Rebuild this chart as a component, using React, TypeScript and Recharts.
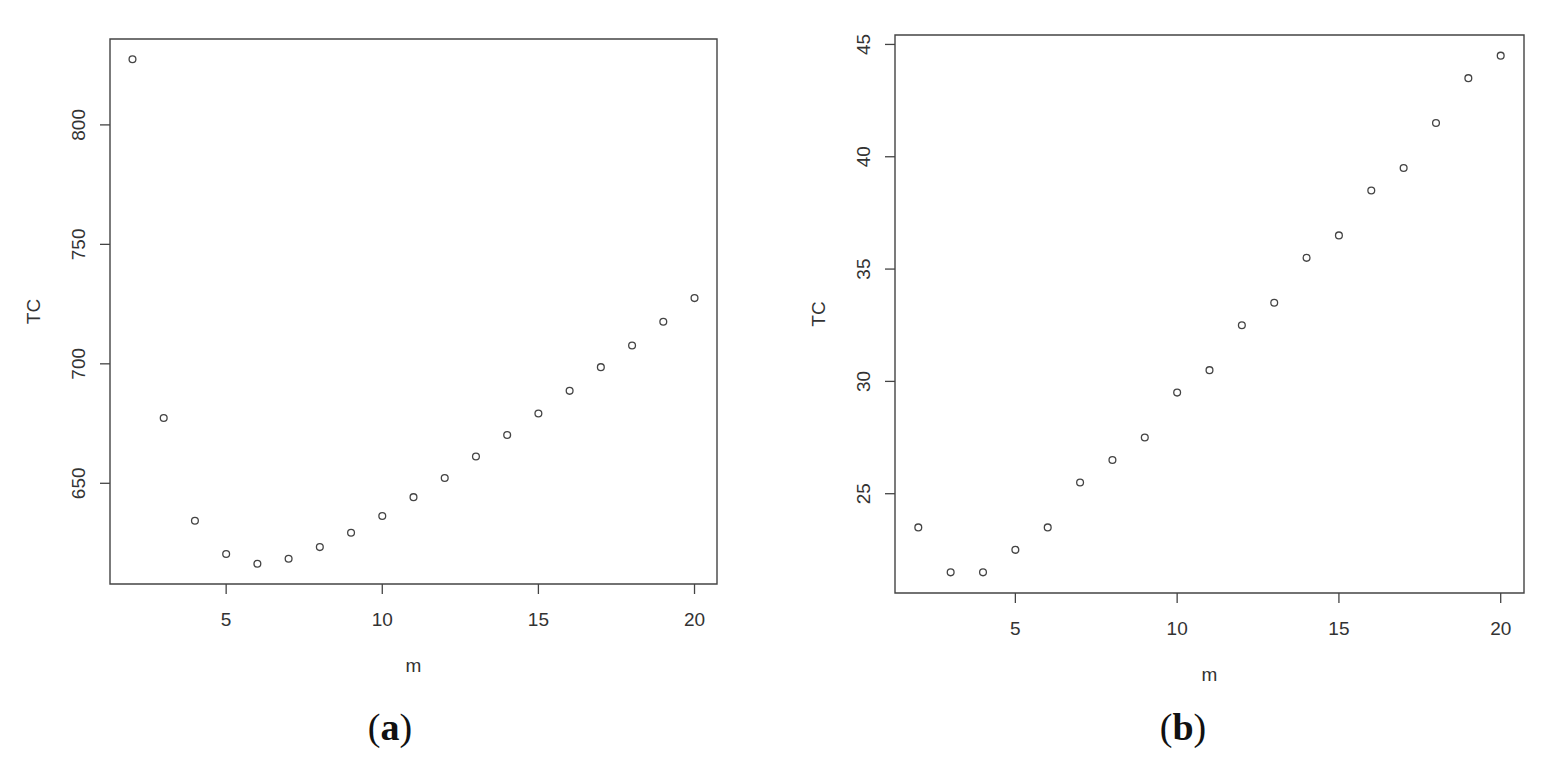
import { ScatterChart, Scatter, XAxis, YAxis, ReferenceArea, Label } from 'recharts';

// number of blocks m and total cost TC
const mValues = [2, 3, 4, 5, 6, 7, 8, 9, 10, 11, 12, 13, 14, 15, 16, 17, 18, 19, 20];
const tcA = [827.5, 677.3, 634.3, 620.4, 616.3, 618.4, 623.3, 629.3, 636.3, 644.2, 652.2, 661.2, 670.2, 679.2, 688.7, 698.6, 707.7, 717.6, 727.5];
const tcB = [23.5, 21.5, 21.5, 22.5, 23.5, 25.5, 26.5, 27.5, 29.5, 30.5, 32.5, 33.5, 35.5, 36.5, 38.5, 39.5, 41.5, 43.5, 44.5];
const xTicks = [5, 10, 15, 20];
const yTicksA = [650, 700, 750, 800];
const yTicksB = [25, 30, 35, 40, 45];
const captions = ['a', 'b'];

const FONT = '"Liberation Sans", Arial, sans-serif';
const INK = '#444';
const TXT = '#333';
const H = 700;
const AX = 100;

// R-style axis range: data range stretched by 4% each side
function pad(v: number[]): [number, number] {
  const lo = Math.min(...v);
  const hi = Math.max(...v);
  const d = (hi - lo) * 0.04;
  return [lo - d, hi + d];
}

interface Box { left: number; top: number; right: number; bottom: number }

function Panel({ values, yTicks, x, width, box }: { values: number[]; yTicks: number[]; x: number; width: number; box: Box }) {
  const data = mValues.map((m, i) => ({ m, tc: values[i] }));
  const xDom = pad(mValues);
  const yDom = pad(values);
  const yLabX = box.left - 25;

  return (
    <div style={{ position: 'absolute', left: x, top: 0 }}>
      <ScatterChart
        width={width}
        height={H}
        margin={{ top: box.top, right: width - box.right, bottom: H - box.bottom - AX, left: box.left - AX }}
      >
        <XAxis
          type="number"
          dataKey="m"
          domain={xDom}
          ticks={xTicks}
          allowDataOverflow
          height={AX}
          axisLine={false}
          tickSize={10}
          tickLine={{ stroke: INK, strokeWidth: 1.3 }}
          tick={(p: any) => (
            <text x={p.x} y={box.bottom + 42} textAnchor="middle" fontSize={19} fontFamily={FONT} fill={TXT}>
              {p.payload.value}
            </text>
          )}
        >
          <Label
            content={() => (
              <text x={(box.left + box.right) / 2} y={box.bottom + 88} textAnchor="middle" fontSize={19} fontFamily={FONT} fill={TXT}>
                m
              </text>
            )}
          />
        </XAxis>
        <YAxis
          type="number"
          dataKey="tc"
          domain={yDom}
          ticks={yTicks}
          allowDataOverflow
          width={AX}
          axisLine={false}
          tickSize={10}
          tickLine={{ stroke: INK, strokeWidth: 1.3 }}
          tick={(p: any) => (
            <text
              x={yLabX}
              y={p.y}
              transform={`rotate(-90, ${yLabX}, ${p.y})`}
              textAnchor="middle"
              fontSize={19}
              fontFamily={FONT}
              fill={TXT}
            >
              {p.payload.value}
            </text>
          )}
        >
          <Label
            content={() => {
              const cx = box.left - 70;
              const cy = (box.top + box.bottom) / 2;
              return (
                <text x={cx} y={cy} transform={`rotate(-90, ${cx}, ${cy})`} textAnchor="middle" fontSize={19} fontFamily={FONT} fill={TXT}>
                  TC
                </text>
              );
            }}
          />
        </YAxis>
        <ReferenceArea x1={xDom[0]} x2={xDom[1]} y1={yDom[0]} y2={yDom[1]} fill="none" stroke={INK} strokeWidth={1.4} />
        <Scatter
          data={data}
          isAnimationActive={false}
          shape={(p: any) => <circle cx={p.cx} cy={p.cy} r={3.4} fill="none" stroke={INK} strokeWidth={1.3} />}
        />
      </ScatterChart>
    </div>
  );
}

export default function App() {
  return (
    <div style={{ position: 'absolute', left: 0, top: 0, width: 1562, height: 770, background: '#fff' }}>
      <Panel values={tcA} yTicks={yTicksA} x={0} width={780} box={{ left: 110, top: 39, right: 717, bottom: 584 }} />
      <Panel values={tcB} yTicks={yTicksB} x={780} width={782} box={{ left: 115, top: 35, right: 744, bottom: 593 }} />
      <svg width={1562} height={770} style={{ position: 'absolute', left: 0, top: 0, pointerEvents: 'none' }}>
        {captions.map((c, i) => (
          <text key={c} x={i === 0 ? 390 : 1183} y={740} textAnchor="middle" fontSize={38} fontFamily='"Liberation Serif", "DejaVu Serif", serif' fill="#111">
            (<tspan fontWeight="bold">{c}</tspan>)
          </text>
        ))}
      </svg>
    </div>
  );
}
